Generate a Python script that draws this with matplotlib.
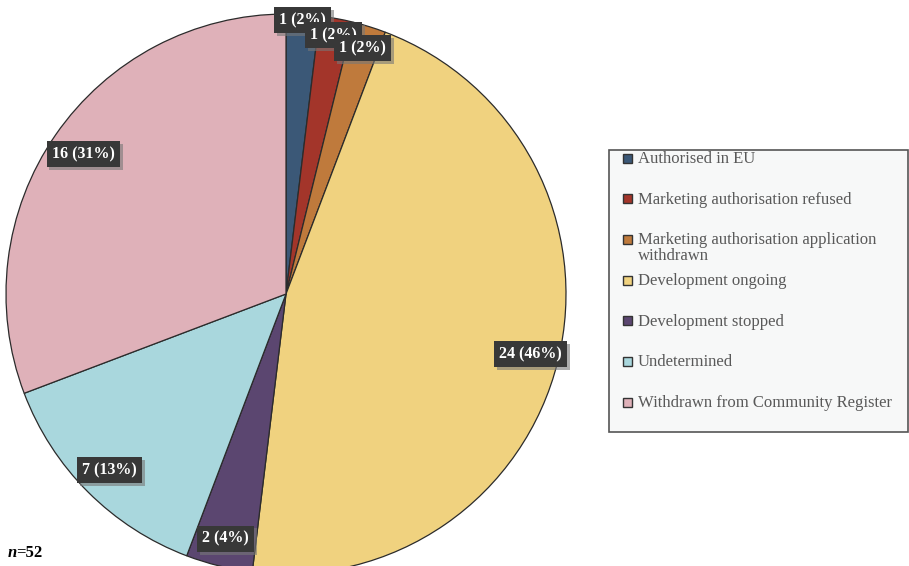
import numpy as np
import matplotlib.pyplot as plt
from matplotlib.patches import Rectangle
import matplotlib.patheffects as pe

plt.rcParams['font.family'] = ['Liberation Serif', 'DejaVu Serif']

categories = ['Authorised in EU',
              'Marketing authorisation refused',
              'Marketing authorisation application\nwithdrawn',
              'Development ongoing',
              'Development stopped',
              'Undetermined',
              'Withdrawn from Community Register']
counts = [1, 1, 1, 24, 2, 7, 16]
colors = ['#3b5877', '#a3352a', '#bf7a3c', '#f0d27f', '#5b4670', '#a9d7dd', '#dfb1b9']
label_r = [0.98, 0.94, 0.92, 0.90, 0.90, 0.89, 0.88]

total = sum(counts)

fig = plt.figure(figsize=(9.09, 5.66), dpi=100)
ax = fig.add_axes([6 / 909, -8 / 566, 560 / 909, 560 / 566])
wedges, _ = ax.pie(counts, colors=colors, startangle=90, counterclock=False,
                   radius=1.0, wedgeprops=dict(edgecolor='#2b2b2b', linewidth=0.9))
ax.set_xlim(-1, 1)
ax.set_ylim(-1, 1)
ax.set_aspect('equal')
ax.axis('off')

# data labels: count (share) on a dark box at each wedge's middle angle
for i, (w, n) in enumerate(zip(wedges, counts)):
    mid = np.deg2rad((w.theta1 + w.theta2) / 2)
    r = label_r[i]
    t = ax.text(r * np.cos(mid), r * np.sin(mid), f'{n} ({round(100 * n / total)}%)',
                ha='center', va='center', color='white', fontsize=11.5,
                fontweight='bold', zorder=10 + i,
                bbox=dict(boxstyle='square,pad=0.32', fc='#383838', ec='none'))
    t.get_bbox_patch().set_path_effects(
        [pe.withSimplePatchShadow(offset=(2, -2), shadow_rgbFace='#777777', alpha=0.6)])

# legend drawn by hand so the wrapped entry keeps the even spacing
lax = fig.add_axes([0, 0, 1, 1], facecolor='none')
lax.set_xlim(0, 909)
lax.set_ylim(566, 0)
lax.axis('off')
lax.add_patch(Rectangle((609, 150), 299, 282, fc='#f7f8f8', ec='#555555', lw=1.2))
for i, (name, c) in enumerate(zip(categories, colors)):
    y = 158 + 40.7 * i
    lax.add_patch(Rectangle((623, y - 4.5), 9, 9, fc=c, ec='#333333', lw=1))
    lax.text(638, y - 7, name, ha='left', va='top', fontsize=12,
             color='#595959', linespacing=1.0)

fig.text(8 / 909, 1 - 553 / 566, 'n', fontsize=12, fontweight='bold',
         fontstyle='italic', va='center', ha='left')
fig.text(16.5 / 909, 1 - 553 / 566, '=52', fontsize=12, fontweight='bold',
         va='center', ha='left')

fig.savefig('out.png', dpi=100)
